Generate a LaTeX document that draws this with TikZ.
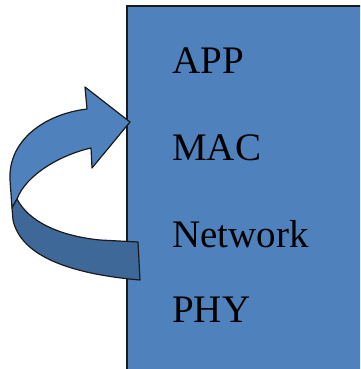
\documentclass[tikz,border=0pt]{standalone}
\usepackage{fontspec}
\setmainfont{Liberation Serif}
\definecolor{layerblue}{HTML}{4F81BD}
\definecolor{bandblue}{HTML}{3E6898}
\definecolor{edge}{HTML}{1A1A1A}
\begin{document}
\begin{tikzpicture}[x=1pt,y=-1pt,
  layer/.style={anchor=base west,inner sep=0pt,font=\fontsize{39}{39}\selectfont,text=black},
  outline/.style={draw=edge,line width=1.2pt,line join=round}]
\useasboundingbox (0,0) rectangle (360,369);
\clip (0,0) rectangle (360,369);
% protocol stack panel
\draw[fill=layerblue,draw=edge,line width=1.6pt] (126.8,6) rectangle (380,390);
\node[layer] (app) at (172,73) {APP};
\node[layer] (mac) at (172,160) {MAC};
\node[layer] (net) at (172,247) {Network};
\node[layer] (phy) at (172,322) {PHY};
% curved arrow: upper band with head
\draw[outline,fill=layerblue]
  (12,208) -- (10,180)
  .. controls (8,140) and (45,114) .. (87,109)
  -- (85,87) -- (130,122) -- (92,168) -- (91,148)
  .. controls (60,155) and (26,175) .. (17,199) -- cycle;
% lower band, seen from behind
\draw[outline,fill=bandblue]
  (17,199) -- (12,208) -- (13,220)
  .. controls (20,252) and (60,273) .. (140,280)
  -- (138,242) -- (100,240)
  .. controls (60,236) and (29,222) .. (17,199) -- cycle;
\end{tikzpicture}
\end{document}
